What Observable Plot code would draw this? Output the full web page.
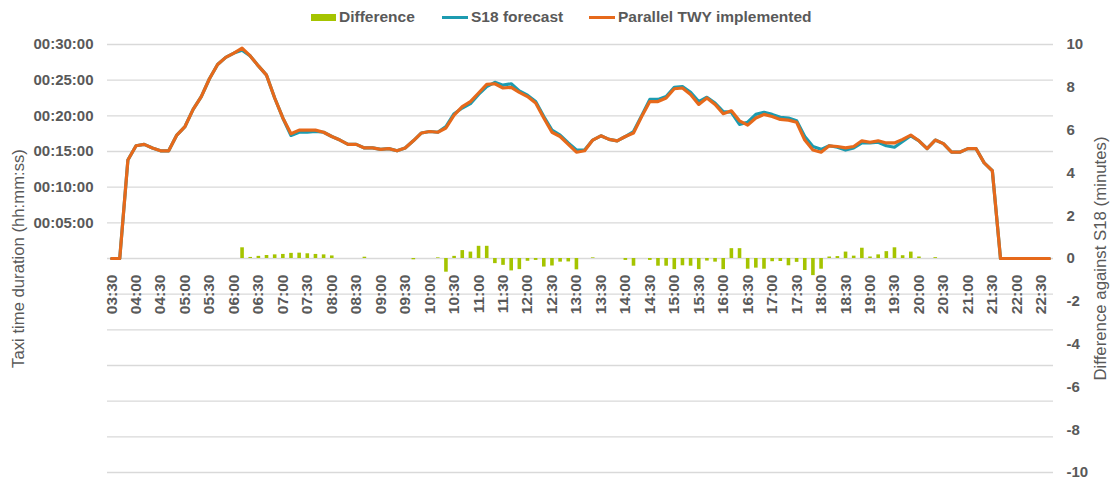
<!DOCTYPE html>
<html><head><meta charset="utf-8">
<script src="https://cdn.jsdelivr.net/npm/d3@7"></script>
<script src="https://cdn.jsdelivr.net/npm/@observablehq/plot@0.6"></script>
<style>
body{margin:0;background:#fff;font-family:"Liberation Sans",Arial,sans-serif;}
#legend{position:relative;height:34px;width:1118px;}
.item{position:absolute;top:0;height:34px;display:flex;align-items:center;font-weight:bold;font-size:15.5px;color:#595959;white-space:nowrap;}
.sw{display:inline-block;margin-right:3px;}
</style></head><body>
<div id="legend"></div>
<div id="chart"></div>
<script>
// 10-minute categories 03:30 .. 22:40
const categories = ["03:30","03:40","03:50","04:00","04:10","04:20","04:30","04:40","04:50","05:00","05:10","05:20","05:30","05:40","05:50","06:00","06:10","06:20","06:30","06:40","06:50","07:00","07:10","07:20","07:30","07:40","07:50","08:00","08:10","08:20","08:30","08:40","08:50","09:00","09:10","09:20","09:30","09:40","09:50","10:00","10:10","10:20","10:30","10:40","10:50","11:00","11:10","11:20","11:30","11:40","11:50","12:00","12:10","12:20","12:30","12:40","12:50","13:00","13:10","13:20","13:30","13:40","13:50","14:00","14:10","14:20","14:30","14:40","14:50","15:00","15:10","15:20","15:30","15:40","15:50","16:00","16:10","16:20","16:30","16:40","16:50","17:00","17:10","17:20","17:30","17:40","17:50","18:00","18:10","18:20","18:30","18:40","18:50","19:00","19:10","19:20","19:30","19:40","19:50","20:00","20:10","20:20","20:30","20:40","20:50","21:00","21:10","21:20","21:30","21:40","21:50","22:00","22:10","22:20","22:30","22:40"];

// Taxi time, minutes
const parallel = [0,0,13.8,15.8,16.0,15.5,15.1,15.1,17.3,18.5,20.9,22.7,25.2,27.2,28.2,28.8,29.5,28.4,27.0,25.7,22.5,19.7,17.5,18.0,18.0,18.0,17.7,17.1,16.6,16.0,16.0,15.5,15.5,15.3,15.4,15.1,15.5,16.5,17.6,17.8,17.7,18.3,20.1,21.3,22.0,23.2,24.4,24.5,23.9,24.0,23.3,22.7,21.8,19.7,17.7,17.1,16.0,14.9,15.1,16.6,17.2,16.7,16.5,17.1,17.6,19.9,22.0,22.0,22.5,23.8,23.9,23.0,21.6,22.5,21.6,20.3,20.7,19.3,18.7,19.7,20.2,19.9,19.5,19.4,19.1,16.6,15.2,14.9,15.8,15.7,15.5,15.7,16.5,16.3,16.5,16.2,16.2,16.7,17.3,16.5,15.4,16.6,16.1,14.9,14.9,15.4,15.4,13.4,12.3,0,0,0,0,0,0,0];
const s18 = [0,0,13.8,15.8,16.0,15.5,15.1,15.1,17.3,18.5,20.9,22.7,25.2,27.2,28.2,28.8,29.2,28.4,27.0,25.7,22.5,19.7,17.25,17.7,17.7,17.8,17.7,17.1,16.6,16.0,16.0,15.5,15.5,15.3,15.4,15.1,15.5,16.5,17.6,17.8,17.7,18.5,20.3,21.1,21.7,23.0,24.1,24.7,24.3,24.5,23.5,22.9,22.0,19.9,18.0,17.3,16.2,15.2,15.2,16.6,17.2,16.7,16.5,17.1,17.8,20.0,22.3,22.3,22.7,24.0,24.1,23.3,22.0,22.6,21.8,20.6,20.5,18.8,19.1,20.2,20.5,20.2,19.8,19.7,19.3,17.1,15.7,15.3,15.8,15.6,15.2,15.5,16.2,16.2,16.3,15.8,15.6,16.4,17.2,16.5,15.4,16.6,16.1,14.9,14.9,15.4,15.4,13.4,12.3,0,0,0,0,0,0,0];
// Difference against S18, minutes
const difference = [0,0,0,0,0,0,0,0,0,0,0,0,0,0,0,0,0.5,0.05,0.1,0.14,0.17,0.19,0.24,0.25,0.22,0.19,0.17,0.12,0,0,0,0.06,0,0,0,0,0,-0.06,0,0,0.03,-0.64,0.1,0.37,0.3,0.57,0.57,-0.24,-0.32,-0.58,-0.52,-0.13,-0.09,-0.4,-0.35,-0.17,-0.16,-0.53,0,0.03,0,0,0,-0.09,-0.36,0,-0.09,-0.36,-0.36,-0.52,-0.34,-0.36,-0.52,-0.12,-0.17,-0.52,0.46,0.46,-0.5,-0.45,-0.5,-0.15,-0.14,-0.34,-0.18,-0.56,-0.8,-0.5,0.07,0.09,0.3,0.11,0.48,0.07,0.17,0.32,0.5,0.13,0.3,0.07,0,0.04,0,0,0,0,0,0,0,0,0,0,0,0,0,0];

const xTickLabels = ["03:30","04:00","04:30","05:00","05:30","06:00","06:30","07:00","07:30","08:00","08:30","09:00","09:30","10:00","10:30","11:00","11:30","12:00","12:30","13:00","13:30","14:00","14:30","15:00","15:30","16:00","16:30","17:00","17:30","18:00","18:30","19:00","19:30","20:00","20:30","21:00","21:30","22:00","22:30"];
const leftTicks = [5,10,15,20,25,30];
const leftTickLabels = ["00:05:00","00:10:00","00:15:00","00:20:00","00:25:00","00:30:00"];
const rightTicks = [10,8,6,4,2,0,-2,-4,-6,-8,-10];
const gridTicks = [-30,-25,-20,-15,-10,-5,0,5,10,15,20,25,30];

const series = [
  {name: "Difference", color: "#a5c400", type: "rect"},
  {name: "S18 forecast", color: "#1d9bb0", type: "line"},
  {name: "Parallel TWY implemented", color: "#e6691b", type: "line"}
];

// legend
const legendLefts = [311, 442, 589];
const lg = document.getElementById("legend");
series.forEach((s, k) => {
  const it = document.createElement("div");
  it.className = "item";
  it.style.left = legendLefts[k] + "px";
  const sw = document.createElement("span");
  sw.className = "sw";
  sw.style.width = (k === 0 ? 25 : 26) + "px";
  sw.style.height = (s.type === "rect" ? 7 : 3) + "px";
  sw.style.background = s.color;
  it.appendChild(sw);
  it.appendChild(document.createTextNode(s.name));
  lg.appendChild(it);
});

const rows = categories.map((t, i) => ({i, t, s18: s18[i], par: parallel[i], diff: difference[i]}));
const grey = "#595959";
const font = "Liberation Sans, Arial, sans-serif";

const chart = Plot.plot({
  width: 1118, height: 445,
  marginTop: 10, marginBottom: 7, marginLeft: 107, marginRight: 65,
  style: {color: grey, fontFamily: font, background: "#fff", overflow: "visible"},
  x: {domain: [-0.5, categories.length - 0.5], axis: null},
  y: {domain: [-30, 30], axis: null},
  marks: [
    Plot.ruleY(gridTicks, {y: d => d, stroke: "#d9d9d9", strokeWidth: 1.3}),
    Plot.ruleX(rows.filter(d => d.diff !== 0), {x: "i", y1: 0, y2: d => d.diff * 3, stroke: series[0].color, strokeWidth: 3.6}),
    Plot.line(rows, {x: "i", y: "s18", stroke: series[1].color, strokeWidth: 3.2}),
    Plot.line(rows, {x: "i", y: "par", stroke: series[2].color, strokeWidth: 3.2}),
    Plot.text(leftTicks, {y: d => d, text: (d, k) => leftTickLabels[k], frameAnchor: "left", textAnchor: "end", dx: -14, fontSize: 15, fontWeight: "bold", fill: grey}),
    Plot.text(rightTicks, {y: d => d * 3, text: d => String(d), frameAnchor: "right", textAnchor: "start", dx: 13, fontSize: 15, fontWeight: "bold", fill: grey}),
    Plot.text(xTickLabels, {x: d => categories.indexOf(d), y: 0, text: d => d, rotate: -90, textAnchor: "end", dy: 16, fontSize: 15.5, fontWeight: "bold", fill: grey}),
    Plot.text(["Taxi time duration (hh:mm:ss)"], {text: d => d, frameAnchor: "left", textAnchor: "middle", dx: -89, rotate: -90, fontSize: 16.7, fill: grey}),
    Plot.text(["Difference against S18 (minutes)"], {text: d => d, frameAnchor: "right", textAnchor: "middle", dx: 47, rotate: -90, fontSize: 16.8, fill: grey})
  ]
});
document.getElementById("chart").appendChild(chart);
</script>
</body></html>
